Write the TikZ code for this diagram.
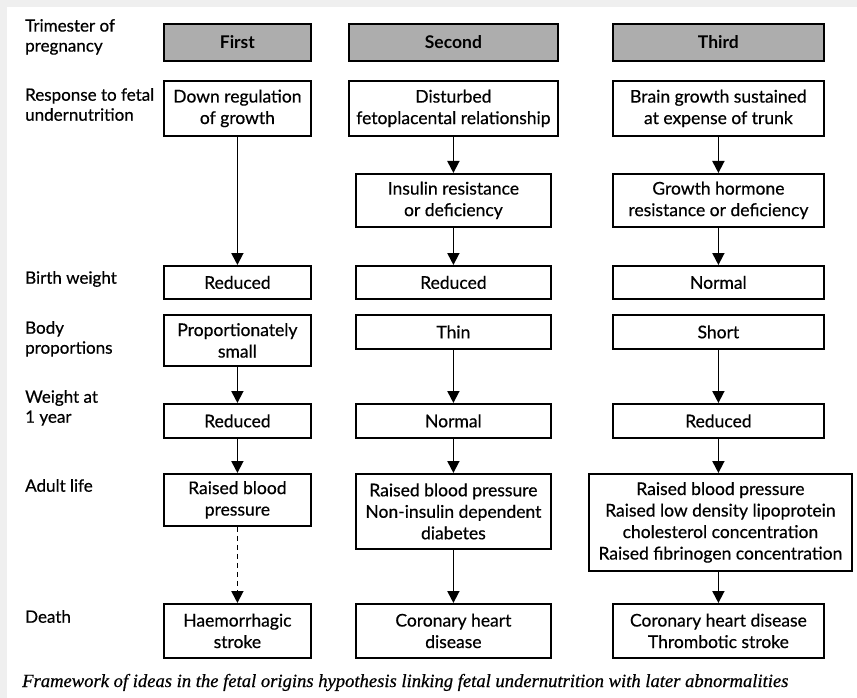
\documentclass[tikz,border=0pt]{standalone}
\usepackage{fontspec}
\setmainfont{Lato}[FakeBold=0.5]
\newfontfamily\hdrfont{Lato Bold}
\newfontfamily\capfont{Liberation Serif}[FakeBold=0.6]
\usetikzlibrary{arrows.meta}
\definecolor{bgframe}{HTML}{EFEFEF}
\definecolor{hdrfill}{HTML}{ADADAD}
\tikzset{
  box/.style={draw, line width=1.8pt, align=center, inner sep=0pt, anchor=north west,
    font=\fontsize{17.5}{21.5}\selectfont},
  hdr/.style={box, fill=hdrfill, font=\fontsize{17.5}{21.5}\selectfont\hdrfont},
  lbl/.style={anchor=north west, align=left, inner sep=0pt, font=\fontsize{17}{20}\selectfont},
  arr/.style={line width=1.8pt, -{Triangle[length=12pt,width=12pt]}},
  darr/.style={arr, dash pattern=on 5pt off 4pt}
}
\begin{document}
\begin{tikzpicture}[x=1pt,y=-1pt]
\fill[bgframe] (0,0) rectangle (857,698);
\fill[white] (7,7) rectangle (857,698);
\useasboundingbox (0,0) rectangle (857,698);

% left labels
\node[lbl] (l1) at (25,19) {Trimester of\\pregnancy};
\node[lbl] (l2) at (25,88) {Response to fetal\\undernutrition};
\node[lbl] (l3) at (25,271) {Birth weight};
\node[lbl] (l4) at (25,321) {Body\\proportions};
\node[lbl] (l5) at (25,390) {Weight at\\1 year};
\node[lbl] (l6) at (25,479) {Adult life};
\node[lbl] (l7) at (25,610) {Death};

% headers
\node[hdr, minimum width=147pt, minimum height=37pt] (h1) at (163,23) {First};
\node[hdr, minimum width=209pt, minimum height=37pt] (h2) at (348,23) {Second};
\node[hdr, minimum width=211pt, minimum height=37pt] (h3) at (612,23) {Third};

% response row
\node[box, minimum width=147pt, minimum height=55pt] (r1) at (163,80) {Down regulation\\of growth};
\node[box, minimum width=209pt, minimum height=55pt] (r2) at (348,80) {Disturbed\\fetoplacental relationship};
\node[box, minimum width=211pt, minimum height=55pt] (r3) at (612,80) {Brain growth sustained\\at expense of trunk};

% intermediate
\node[box, minimum width=195pt, minimum height=53pt] (i2) at (355,173) {Insulin resistance\\or deficiency};
\node[box, minimum width=211pt, minimum height=53pt] (i3) at (612,173) {Growth hormone\\resistance or deficiency};

% birth weight
\node[box, minimum width=147pt, minimum height=33pt] (b1) at (163,265) {Reduced};
\node[box, minimum width=195pt, minimum height=33pt] (b2) at (355,265) {Reduced};
\node[box, minimum width=211pt, minimum height=33pt] (b3) at (612,265) {Normal};

% body proportions
\node[box, minimum width=147pt, minimum height=51pt] (p1) at (163,314) {Proportionately\\small};
\node[box, minimum width=195pt, minimum height=34pt] (p2) at (355,314) {Thin};
\node[box, minimum width=211pt, minimum height=34pt] (p3) at (612,314) {Short};

% weight at 1 year
\node[box, minimum width=147pt, minimum height=34pt] (w1) at (163,403) {Reduced};
\node[box, minimum width=195pt, minimum height=34pt] (w2) at (355,403) {Normal};
\node[box, minimum width=211pt, minimum height=34pt] (w3) at (612,403) {Reduced};

% adult life
\node[box, minimum width=147pt, minimum height=52pt] (a1) at (163,473) {Raised blood\\pressure};
\node[box, minimum width=195pt, minimum height=75pt] (a2) at (355,473) {Raised blood pressure\\Non-insulin dependent\\diabetes};
\node[box, minimum width=263pt, minimum height=97pt] (a3) at (588,473) {Raised blood pressure\\Raised low density lipoprotein\\cholesterol concentration\\Raised fibrinogen concentration};

% death
\node[box, minimum width=147pt, minimum height=54pt] (d1) at (163,603) {Haemorrhagic\\stroke};
\node[box, minimum width=195pt, minimum height=54pt] (d2) at (355,603) {Coronary heart\\disease};
\node[box, minimum width=211pt, minimum height=54pt] (d3) at (612,603) {Coronary heart disease\\Thrombotic stroke};

% arrows column 1
\draw[arr] (r1) -- (b1);
\draw[arr] (p1) -- (w1);
\draw[arr] (w1) -- (a1);
\draw[darr] (a1) -- (d1);
% column 2
\draw[arr] (r2) -- (i2);
\draw[arr] (i2) -- (b2);
\draw[arr] (p2) -- (w2);
\draw[arr] (w2) -- (a2);
\draw[arr] (a2) -- (d2);
% column 3
\draw[arr] (r3) -- (i3);
\draw[arr] (i3) -- (b3);
\draw[arr] (p3) -- (w3);
\draw[arr] (w3.south) -- (w3.south |- a3.north);
\draw[arr] (a3.south -| d3.north) -- (d3);

% caption
\node[anchor=base west, inner sep=0pt, font=\capfont\itshape\fontsize{18.6}{20}\selectfont] (cap) at (22,687)
  {Framework of ideas in the fetal origins hypothesis linking fetal undernutrition with later abnormalities};
\end{tikzpicture}
\end{document}
